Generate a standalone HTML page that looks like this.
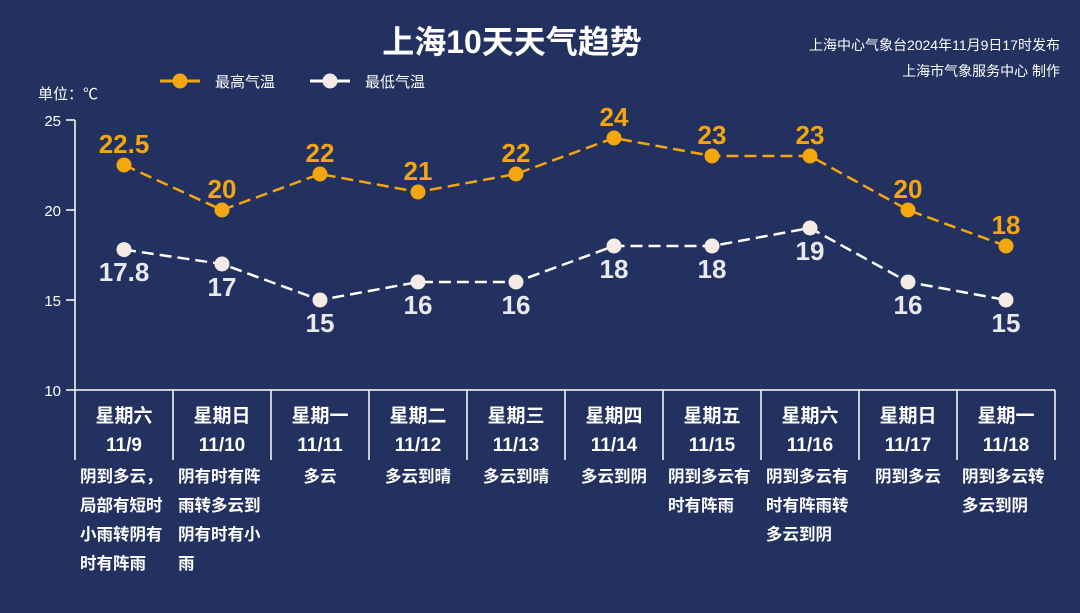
<!DOCTYPE html>
<html><head><meta charset="utf-8"><style>
html,body{margin:0;padding:0;background:#22315f;}
svg{display:block}
text{font-family:"Liberation Sans","Noto Sans CJK SC",sans-serif;}
.w{position:absolute;top:463px;width:98px;text-align:center;}
.w div{display:inline-block;text-align:left;color:#fff;font:bold 16.5px/29px "Liberation Sans","Noto Sans CJK SC",sans-serif;max-width:88px;}
</style></head><body>
<div style="position:relative;width:1080px;height:613px;overflow:hidden;background:#22315f">
<svg width="1080" height="613" xmlns="http://www.w3.org/2000/svg">
<text x="512" y="53" fill="#fff" font-size="32" font-weight="bold" text-anchor="middle">上海10天天气趋势</text>
<text x="1060" y="50" fill="#fff" font-size="14" text-anchor="end">上海中心气象台2024年11月9日17时发布</text>
<text x="1060" y="76" fill="#fff" font-size="14" text-anchor="end">上海市气象服务中心 制作</text>
<line x1="160" y1="81" x2="200" y2="81" stroke="#f5a60d" stroke-width="3"/><circle cx="180" cy="81" r="7.5" fill="#f5a60d"/>
<text x="215" y="87" fill="#fff" font-size="15">最高气温</text>
<line x1="310" y1="81" x2="350" y2="81" stroke="#fff" stroke-width="3"/><circle cx="330" cy="81" r="7.5" fill="#f5ebe6"/>
<text x="365" y="87" fill="#fff" font-size="15">最低气温</text>
<text x="38" y="99" fill="#fff" font-size="15">单位：℃</text>
<g stroke="#fff" stroke-width="1.5" fill="none">
<line x1="75" y1="120" x2="75" y2="460"/>
<line x1="75" y1="390" x2="1055" y2="390"/>
<line x1="66" y1="120" x2="75" y2="120"/><line x1="66" y1="210" x2="75" y2="210"/><line x1="66" y1="300" x2="75" y2="300"/><line x1="66" y1="390" x2="75" y2="390"/>
<line x1="173" y1="390" x2="173" y2="460"/><line x1="271" y1="390" x2="271" y2="460"/><line x1="369" y1="390" x2="369" y2="460"/><line x1="467" y1="390" x2="467" y2="460"/><line x1="565" y1="390" x2="565" y2="460"/><line x1="663" y1="390" x2="663" y2="460"/><line x1="761" y1="390" x2="761" y2="460"/><line x1="859" y1="390" x2="859" y2="460"/><line x1="957" y1="390" x2="957" y2="460"/><line x1="1055" y1="390" x2="1055" y2="460"/>
</g>
<g fill="#fff" font-size="15" text-anchor="end"><text x="61" y="126">25</text><text x="61" y="216">20</text><text x="61" y="306">15</text><text x="61" y="396">10</text></g>
<polyline points="124,165 222,210 320,174 418,192 516,174 614,138 712,156 810,156 908,210 1006,246" fill="none" stroke="#f5a60d" stroke-width="2.5" stroke-dasharray="12,6"/>
<polyline points="124,249.6 222,264 320,300 418,282 516,282 614,246 712,246 810,228 908,282 1006,300" fill="none" stroke="#fff" stroke-width="2.5" stroke-dasharray="12,6"/>
<g fill="#f5a60d"><circle cx="124" cy="165" r="7.5"/><circle cx="222" cy="210" r="7.5"/><circle cx="320" cy="174" r="7.5"/><circle cx="418" cy="192" r="7.5"/><circle cx="516" cy="174" r="7.5"/><circle cx="614" cy="138" r="7.5"/><circle cx="712" cy="156" r="7.5"/><circle cx="810" cy="156" r="7.5"/><circle cx="908" cy="210" r="7.5"/><circle cx="1006" cy="246" r="7.5"/></g>
<g fill="#f5ebe6"><circle cx="124" cy="249.6" r="7.5"/><circle cx="222" cy="264" r="7.5"/><circle cx="320" cy="300" r="7.5"/><circle cx="418" cy="282" r="7.5"/><circle cx="516" cy="282" r="7.5"/><circle cx="614" cy="246" r="7.5"/><circle cx="712" cy="246" r="7.5"/><circle cx="810" cy="228" r="7.5"/><circle cx="908" cy="282" r="7.5"/><circle cx="1006" cy="300" r="7.5"/></g>
<g fill="#f5a60d" font-size="26" font-weight="bold" text-anchor="middle">
<text x="124" y="153">22.5</text><text x="222" y="198">20</text><text x="320" y="162">22</text><text x="418" y="180">21</text><text x="516" y="162">22</text><text x="614" y="126">24</text><text x="712" y="144">23</text><text x="810" y="144">23</text><text x="908" y="198">20</text><text x="1006" y="234">18</text></g>
<g fill="#e8e8ee" font-size="26" font-weight="bold" text-anchor="middle">
<text x="124" y="281">17.8</text><text x="222" y="296">17</text><text x="320" y="332">15</text><text x="418" y="314">16</text><text x="516" y="314">16</text><text x="614" y="278">18</text><text x="712" y="278">18</text><text x="810" y="260">19</text><text x="908" y="314">16</text><text x="1006" y="332">15</text></g>
<g fill="#fff" font-size="19" font-weight="bold" text-anchor="middle">
<text x="124" y="422">星期六</text><text x="124" y="451">11/9</text>
<text x="222" y="422">星期日</text><text x="222" y="451">11/10</text>
<text x="320" y="422">星期一</text><text x="320" y="451">11/11</text>
<text x="418" y="422">星期二</text><text x="418" y="451">11/12</text>
<text x="516" y="422">星期三</text><text x="516" y="451">11/13</text>
<text x="614" y="422">星期四</text><text x="614" y="451">11/14</text>
<text x="712" y="422">星期五</text><text x="712" y="451">11/15</text>
<text x="810" y="422">星期六</text><text x="810" y="451">11/16</text>
<text x="908" y="422">星期日</text><text x="908" y="451">11/17</text>
<text x="1006" y="422">星期一</text><text x="1006" y="451">11/18</text>
</g>
</svg>
<div class="w" style="left:75px"><div>阴到多云，局部有短时小雨转阴有时有阵雨</div></div>
<div class="w" style="left:173px"><div>阴有时有阵雨转多云到阴有时有小雨</div></div>
<div class="w" style="left:271px"><div>多云</div></div>
<div class="w" style="left:369px"><div>多云到晴</div></div>
<div class="w" style="left:467px"><div>多云到晴</div></div>
<div class="w" style="left:565px"><div>多云到阴</div></div>
<div class="w" style="left:663px"><div>阴到多云有时有阵雨</div></div>
<div class="w" style="left:761px"><div>阴到多云有时有阵雨转多云到阴</div></div>
<div class="w" style="left:859px"><div>阴到多云</div></div>
<div class="w" style="left:957px"><div>阴到多云转多云到阴</div></div>
</div>
</body></html>
